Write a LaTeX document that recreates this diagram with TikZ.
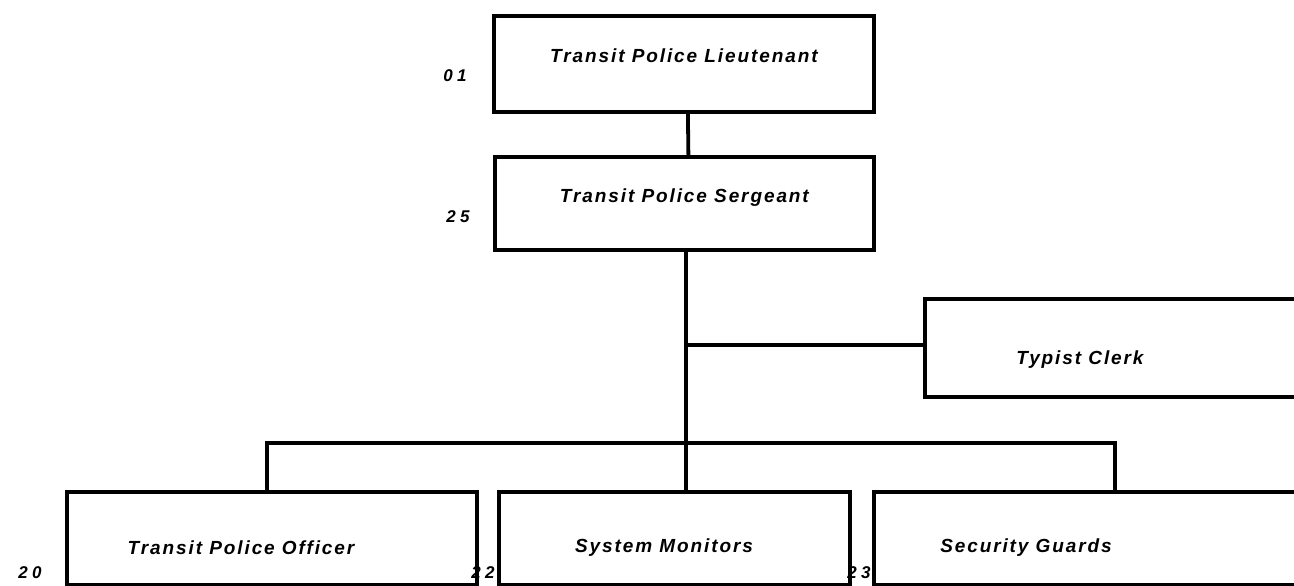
\documentclass[tikz,border=0pt]{standalone}
\usepackage{fontspec}
\newfontfamily\orgfont[LetterSpace=10]{Liberation Sans}
\newfontfamily\codefont[LetterSpace=25]{Liberation Sans}
\usetikzlibrary{positioning}

\begin{document}
\begin{tikzpicture}[x=1pt, y=-1pt,
    box/.style={draw, line width=3.8pt, anchor=north west, inner sep=0pt},
    title/.style={font=\orgfont\bfseries\itshape\fontsize{19}{22}\selectfont},
    code/.style={font=\codefont\bfseries\itshape\fontsize{17}{20}\selectfont},
    wire/.style={line width=3.8pt}]
  \useasboundingbox (0,0) rectangle (1294,586);
  \clip (0,0) rectangle (1294,586);

  % boxes
  \node[box, minimum width=380, minimum height=96] (lieut) at (492,14) {};
  \node[box, minimum width=379, minimum height=93] (serg) at (493,155) {};
  \node[box, minimum width=440, minimum height=98] (clerk) at (923,297) {};
  \node[box, minimum width=410, minimum height=93] (officer) at (65,490) {};
  \node[box, minimum width=351, minimum height=93] (monitors) at (497,490) {};
  \node[box, minimum width=482, minimum height=93] (guards) at (872,490) {};

  % titles
  \node[title] (lieutT) at ([yshift=8]lieut.center) {Transit Police Lieutenant};
  \node[title] (sergT) at ([yshift=6]serg.center) {Transit Police Sergeant};
  \node[title] (clerkT) at (1080,360) {Typist Clerk};
  \node[title] (officerT) at (241,548) {Transit Police Officer};
  \node[title] (monitorsT) at (664,548) {System Monitors};
  \node[title] (guardsT) at (1026,548) {Security Guards};

  % position codes
  \node[code] (c01) at (455,76) {01};
  \node[code] (c25) at (458,217) {25};
  \node[code] (c20) at (30,573) {20};
  \node[code] (c22) at (483,573) {22};
  \node[code] (c23) at (859,573) {23};

  % lines
  \coordinate (tap) at (686,345);
  \coordinate (hub) at (686,443);
  \draw[wire] ([xshift=4]lieut.south) -- ([xshift=4]serg.north);
  \draw[wire] (serg.south -| hub) -- (monitors.north -| hub);
  \draw[wire] (tap) -- (tap -| clerk.west);
  \draw[wire] ([xshift=-5]officer.north) |- (hub) -| (guards.north);
\end{tikzpicture}
\end{document}
